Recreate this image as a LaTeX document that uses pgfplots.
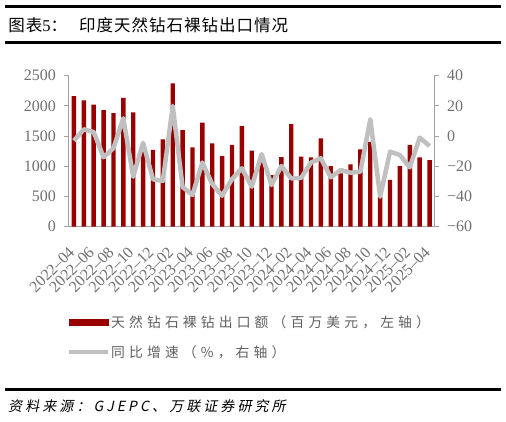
\documentclass[border=0pt]{standalone}
\usepackage{pgfplots}
\pgfplotsset{compat=1.18}
\usepackage{pgfplotstable}
\usepackage{fontspec}
\setmainfont{Liberation Serif}
\newfontfamily\cjk{Noto Sans CJK SC}
\newfontfamily\cjktitle[LetterSpace=6]{Noto Sans CJK SC}
\newfontfamily\cjkleg[LetterSpace=30]{Noto Sans CJK SC}
\newfontfamily\cjkit[FakeSlant=0.2,LetterSpace=22]{Noto Sans CJK SC}
\definecolor{barred}{HTML}{990000}
\definecolor{linegray}{HTML}{C0C0C0}
\definecolor{axisgray}{HTML}{A0A0A0}
\definecolor{ticktext}{HTML}{707070}
\definecolor{legendtext}{HTML}{606060}

\pgfplotstableread{
x v g
0 2164 -3.0
1 2093 4.5
2 2020 2.7
3 1932 -14
4 1882 -8
5 2131 11.8
6 1894 -26.9
7 1350 -4.4
8 1270 -28.6
9 1447 -29.7
10 2374 20
11 1601 -33.7
12 1314 -39
13 1722 -17.5
14 1381 -31.8
15 1170 -39.5
16 1353 -28.5
17 1667 -21.3
18 1258 -33.5
19 1180 -11.9
20 856 -32.4
21 1152 -19.8
22 1700 -28
23 1159 -27.7
24 1149 -17.5
25 1464 -14.7
26 1005 -27.3
27 884 -22.5
28 1030 -24.2
29 1281 -23.6
30 1403 11.1
31 488 -40.1
32 776 -10.3
33 1005 -12.5
34 1353 -20.7
35 1149 -1.0
36 1104 -6.6
}\data

\begin{document}
\begin{tikzpicture}
\useasboundingbox (0pt,0pt) rectangle (506pt,-421pt);
\draw[line width=3pt] (5pt,-6.5pt) -- (501pt,-6.5pt);
\draw[line width=3pt] (5pt,-42.2pt) -- (501pt,-42.2pt);
\draw[line width=2.7pt] (5pt,-389.3pt) -- (501pt,-389.3pt);
\node[anchor=west, inner sep=0pt] at (8.3pt,-25pt) {\cjktitle\fontsize{16.5}{16.5}\selectfont 图表{\rmfamily 5}：\hspace{12pt}印度天然钻石裸钻出口情况};
\node[anchor=west, inner sep=0pt] at (8pt,-406.5pt) {\cjkit\fontsize{14}{14}\selectfont 资料来源：GJEPC、万联证券研究所};

\begin{axis}[
  at={(69pt,-226.7pt)}, anchor=south west, scale only axis,
  width=365.5pt, height=151pt,
  xmin=-0.5, xmax=36.5, ymin=0, ymax=2500,
  axis x line*=bottom, axis y line*=left,
  axis line style={draw=axisgray, line width=1pt},
  tick align=outside, major tick length=5pt,
  ytick={0,500,1000,1500,2000,2500},
  yticklabels={0,500,1000,1500,2000,2500},
  ytick style={draw=axisgray, line width=1pt},
  yticklabel style={font=\fontsize{16}{16}\selectfont, text=ticktext, xshift=-4.5pt},
  xtick={0,2,...,36},
  xticklabels={2022–04,2022–06,2022–08,2022–10,2022–12,2023–02,2023–04,2023–06,2023–08,2023–10,2023–12,2024–02,2024–04,2024–06,2024–08,2024–10,2024–12,2025–02,2025–04},
  xtick style={draw=none},
  xticklabel shift=16pt,
  xticklabel style={font=\fontsize{16}{16}\selectfont, text=ticktext, rotate=45, anchor=east, inner sep=0pt, xshift=-3pt},
  clip=false,
]
\addplot[ybar, bar width=4.4pt, fill=barred, draw=none] table[x=x,y=v] {\data};
\end{axis}

\begin{axis}[
  at={(69pt,-226.7pt)}, anchor=south west, scale only axis,
  width=365.5pt, height=151pt,
  xmin=-0.5, xmax=36.5, ymin=-60, ymax=40,
  axis x line=none, axis y line*=right,
  axis line style={draw=axisgray, line width=1pt},
  tick align=outside, major tick length=5pt,
  ytick={-60,-40,-20,0,20,40},
  yticklabels={−60,−40,−20,0,20,40},
  ytick style={draw=axisgray, line width=1pt},
  yticklabel style={font=\fontsize{16}{16}\selectfont, text=ticktext, xshift=4pt},
  clip=false,
  legend cell align=left,
  legend style={at={(axis description cs:0,0)}, anchor=north west, xshift=-2pt, yshift=-88pt,
    draw=none, fill=none, inner sep=0pt, font=\cjkleg\fontsize{13.8}{13.8}\selectfont,
    text=legendtext, row sep=14.5pt, nodes={inner sep=1pt},
    /tikz/every even column/.append style={column sep=4pt}},
]
\addplot[linegray, line width=4.5pt, line join=round, forget plot] table[x=x,y=g] {\data};
\addlegendimage{legend image code/.code={\fill[barred] (0pt,-3pt) rectangle (39pt,3pt);}}
\addlegendentry{天然钻石裸钻出口额（百万美元，左轴）}
\addlegendimage{legend image code/.code={\draw[linegray, line width=4pt] (0pt,0pt) -- (39pt,0pt);}}
\addlegendentry{同比增速（\%，右轴）}
\end{axis}
\end{tikzpicture}
\end{document}
